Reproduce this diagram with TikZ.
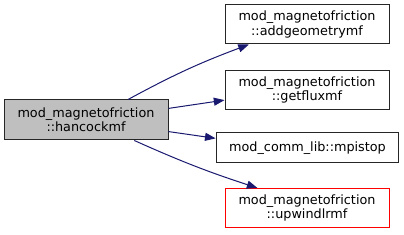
\documentclass[tikz,border=0pt]{standalone}
\usepackage{fontspec}
\setmainfont{DejaVu Sans}
\usetikzlibrary{arrows.meta}
\definecolor{klicmodra}{HTML}{191970}
\definecolor{izbrano}{HTML}{BFBFBF}
\tikzset{
	graf/.style={x=0.75pt, y=-0.75pt, font=\fontsize{9.6}{9.4}\selectfont,
	             >={Triangle[length=8pt,width=6pt]}},
	funkcija/.style={draw=black!85, line width=0.75pt, fill=white, align=center,
	                 inner sep=0pt, minimum width=123pt, minimum height=29.25pt},
	klic/.style={->, draw=klicmodra, fill=none, line width=0.75pt},
}

\begin{document}
\begin{tikzpicture}[graf]

\useasboundingbox (0,0) rectangle (404,235);

\node[funkcija, fill=izbrano, minimum height=30pt] (hancock) at (86,120)
    {mod\_magnetofriction\\::hancockmf};
\node[funkcija] (addgeom) at (307,24.5)
    {mod\_magnetofriction\\::addgeometrymf};
\node[funkcija] (getflux) at (307,90)
    {mod\_magnetofriction\\::getfluxmf};
\node[funkcija, minimum width=137pt, minimum height=22.5pt] (mpistop) at (307.5,148)
    {mod\_comm\_lib::mpistop};
\node[funkcija, draw=red] (upwind) at (307,208)
    {mod\_magnetofriction\\::upwindlrmf};

\draw[klic] (hancock.26) to[bend left=4] (addgeom.199);
\draw[klic] (hancock.8) -- (getflux.187);
\draw[klic] (hancock.-8) -- (mpistop.174);
\draw[klic] (hancock.-23) to[bend right=3] (upwind.158);

\end{tikzpicture}
\end{document}
